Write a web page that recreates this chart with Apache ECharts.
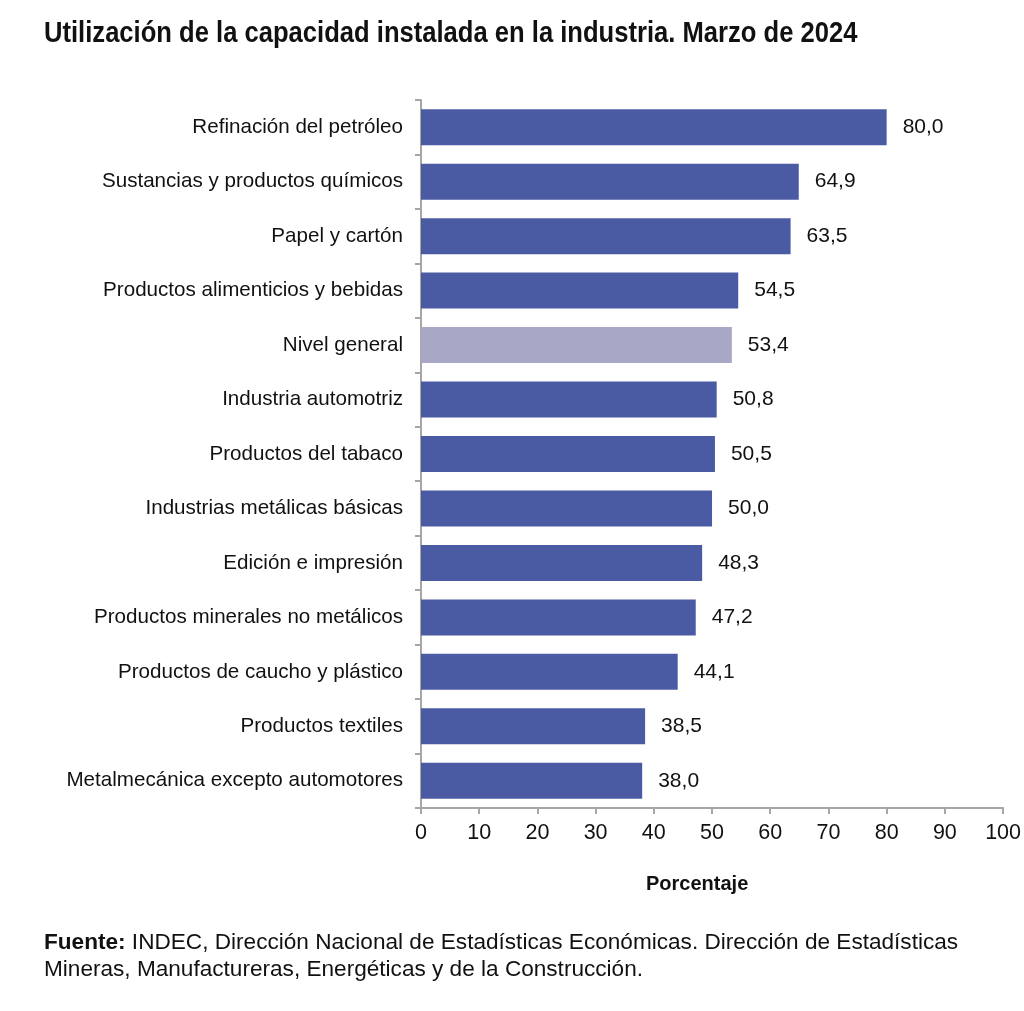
<!DOCTYPE html>
<html><head><meta charset="utf-8">
<script src="https://cdn.jsdelivr.net/npm/echarts@6/dist/echarts.min.js"></script>
<style>html,body{margin:0;padding:0;background:#fff}#c{width:1024px;height:1011px}</style>
</head><body><div id="c"></div>
<script>
const categories = ["Refinación del petróleo","Sustancias y productos químicos","Papel y cartón","Productos alimenticios y bebidas","Nivel general","Industria automotriz","Productos del tabaco","Industrias metálicas básicas","Edición e impresión","Productos minerales no metálicos","Productos de caucho y plástico","Productos textiles","Metalmecánica excepto automotores"];
const values = [80.0,64.9,63.5,54.5,53.4,50.8,50.5,50.0,48.3,47.2,44.1,38.5,38.0];
const highlight = "Nivel general";
const xTicks = [0,10,20,30,40,50,60,70,80,90,100];

const font = "Helvetica, 'Liberation Sans', Arial, sans-serif";
const chart = echarts.init(document.getElementById('c'));
chart.setOption({
  animation:false,
  backgroundColor:'#fff',
  graphic:[{
    type:'text', left:44, top:19, scaleX:0.853, originX:0,
    style:{text:'Utilización de la capacidad instalada en la industria. Marzo de 2024',
      font:"bold 30px 'Liberation Sans', Arial, sans-serif", fill:'#111'}
  },{
    type:'text', left:44, top:929,
    style:{text:'{b|Fuente:} INDEC, Dirección Nacional de Estadísticas Económicas. Dirección de Estadísticas\nMineras, Manufactureras, Energéticas y de la Construcción.',
      fontFamily:font, fontSize:22.6, fill:'#111', lineHeight:27,
      rich:{b:{fontFamily:font, fontSize:22.6, fontWeight:'bold', fill:'#111', lineHeight:27}}}
  },{
    type:'text', left:646, top:874,
    style:{text:'Porcentaje', fontFamily:font, fontWeight:'bold', fontSize:20, fill:'#111'}
  }],
  grid:{left:421, right:20, top:100, height:708, containLabel:false},
  xAxis:{
    type:'value', min:0, max:100, interval:10,
    axisLine:{show:true, lineStyle:{color:'#a6a6a6', width:2}},
    axisTick:{show:true, length:6, lineStyle:{color:'#a6a6a6', width:2}},
    axisLabel:{fontFamily:font, fontSize:21.5, color:'#111', margin:14,
      formatter:v=>xTicks.includes(v)?String(v):''},
    splitLine:{show:false}
  },
  yAxis:{
    type:'category', data:categories, inverse:true,
    axisLine:{show:true, lineStyle:{color:'#a6a6a6', width:2}},
    axisTick:{show:true, length:6, alignWithLabel:false, lineStyle:{color:'#a6a6a6', width:2}},
    axisLabel:{fontFamily:font, fontSize:20.6, color:'#111', margin:18}
  },
  series:[{
    type:'bar', barWidth:36,
    data:values.map((v,i)=>({value:v, itemStyle:{color: categories[i]===highlight ? '#a8a8c6' : '#4b5ba3'}})),
    label:{show:true, position:'right', distance:16, fontFamily:font, fontSize:21, color:'#111',
      formatter:p=>p.value.toFixed(1).replace('.',',')}
  }]
});
</script></body></html>
